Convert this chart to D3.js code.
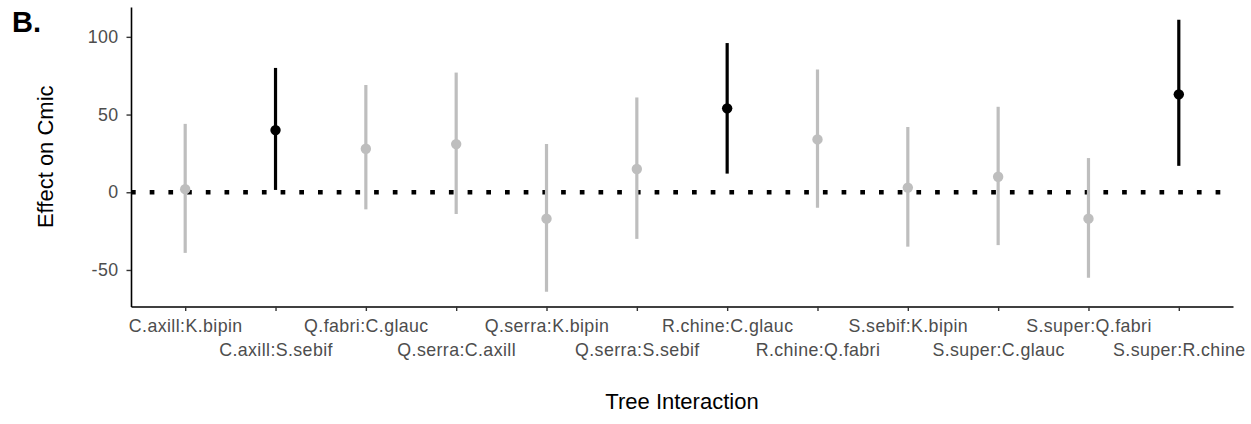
<!DOCTYPE html>
<html>
<head>
<meta charset="utf-8">
<script src="https://cdn.jsdelivr.net/npm/d3@7"></script>
<style>
  body { margin: 0; background: #fff; }
  svg { display: block; font-family: "Liberation Sans", Arial, sans-serif; }
</style>
</head>
<body>
<div id="chart"></div>
<script>
// data
const pairs = ["C.axill:K.bipin", "C.axill:S.sebif", "Q.fabri:C.glauc", "Q.serra:C.axill",
  "Q.serra:K.bipin", "Q.serra:S.sebif", "R.chine:C.glauc", "R.chine:Q.fabri",
  "S.sebif:K.bipin", "S.super:C.glauc", "S.super:Q.fabri", "S.super:R.chine"];
const effect = [2, 40, 28, 31, -17, 15, 54, 34, 3, 10, -17, 63];
const lower = [-39, 1.5, -11, -14, -64, -30, 12, -10, -35, -34, -55, 17];
const upper = [44, 80, 69, 77, 31, 61, 96, 79, 42, 55, 22, 111];
const signif = [false, true, false, false, false, false, true, false, false, false, false, true];
const yTicks = [-50, 0, 50, 100];

const width = 1251, height = 424;
const marginLeft = 131, panelRight = 1233, panelTop = 7, panelBottom = 306.5;

const svg = d3.select("#chart").append("svg")
  .attr("width", width).attr("height", height);

const x = d3.scalePoint().domain(pairs).range([marginLeft, panelRight]).padding(0.6);
const y = d3.scaleLinear().domain([-73.5, 119.2]).range([panelBottom, panelTop]);

// zero reference line
svg.append("line")
  .attr("x1", marginLeft).attr("x2", panelRight)
  .attr("y1", y(0)).attr("y2", y(0))
  .attr("stroke", "#000").attr("stroke-width", 4.5)
  .attr("stroke-dasharray", "4.7 14");

const rows = pairs.map((p, i) => ({p, e: effect[i], lo: lower[i], hi: upper[i], s: signif[i]}));

// error bars
svg.selectAll(".err").data(rows).join("line")
  .attr("x1", d => x(d.p)).attr("x2", d => x(d.p))
  .attr("y1", d => y(d.lo)).attr("y2", d => y(d.hi))
  .attr("stroke", d => d.s ? "#000" : "#bebebe")
  .attr("stroke-width", 3.2);

svg.selectAll(".pt").data(rows).join("circle")
  .attr("cx", d => x(d.p)).attr("cy", d => y(d.e))
  .attr("r", 5.2)
  .attr("fill", d => d.s ? "#000" : "#bebebe");

// axes
const yAxis = svg.append("g")
  .attr("transform", `translate(${marginLeft},0)`)
  .call(d3.axisLeft(y).tickValues(yTicks).tickFormat(d => String(d))
    .tickSize(4.5).tickSizeOuter(0).tickPadding(8));
const xAxis = svg.append("g")
  .attr("transform", `translate(0,${panelBottom})`)
  .call(d3.axisBottom(x).tickSize(4.5).tickSizeOuter(0).tickPadding(8.5));

[yAxis, xAxis].forEach(g => {
  g.select(".domain").attr("stroke", "#000").attr("stroke-width", 1.6);
  g.selectAll(".tick line").attr("stroke", "#333").attr("stroke-width", 1.4);
  g.selectAll(".tick text").attr("fill", "#4d4d4d")
    .style("font-size", "17.8px").style("letter-spacing", "0.4px");
});
// stagger the x labels on two rows
xAxis.selectAll(".tick text").attr("y", (d, i) => i % 2 ? 37 : 13);

// titles
svg.append("text")
  .attr("x", (marginLeft + panelRight) / 2).attr("y", 409)
  .attr("text-anchor", "middle").style("font-size", "22px").attr("fill", "#000")
  .text("Tree Interaction");

svg.append("text")
  .attr("transform", `translate(53,${(panelTop + panelBottom) / 2}) rotate(-90)`)
  .attr("text-anchor", "middle").style("font-size", "22px").attr("fill", "#000")
  .text("Effect on Cmic");

svg.append("text")
  .attr("x", 12).attr("y", 32)
  .style("font-size", "29px").style("font-weight", "bold")
  .text("B.");
</script>
</body>
</html>
